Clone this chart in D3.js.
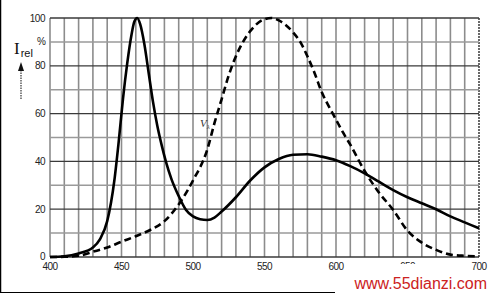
<!DOCTYPE html>
<html>
<head>
<meta charset="utf-8">
<script src="https://cdn.jsdelivr.net/npm/d3@7"></script>
<style>
  html, body { margin: 0; padding: 0; background: #fff; }
  svg { display: block; font-family: "Liberation Sans", Arial, sans-serif; }
</style>
</head>
<body>
<div id="chart"></div>
<script>
// LED emission spectrum (solid) and eye sensitivity V(lambda) (dashed), % relative
const ledWave = [400, 410, 420, 430, 435, 440, 445, 448, 451, 454, 457, 459, 461, 463, 466, 469, 472, 475, 478, 481, 485, 490, 495, 500, 505, 510, 515, 520, 530, 540, 550, 560, 570, 580, 590, 600, 610, 620, 630, 640, 650, 660, 670, 680, 690, 700];
const ledRel  = [0, 0.3, 1.5, 4, 7.5, 15, 32, 48, 66, 81, 93, 98.5, 100, 97.5, 89, 77, 65, 55, 47, 40, 32.5, 25.5, 19.8, 17, 15.8, 15.5, 16.5, 19, 25, 32, 37.5, 41, 42.8, 43, 42, 40.5, 38, 35, 31.5, 28, 25, 22.5, 20, 17, 14.5, 12];

const eyeWave = [400, 410, 420, 430, 440, 450, 460, 470, 480, 490, 500, 510, 515, 520, 525, 530, 535, 540, 550, 555, 560, 565, 570, 575, 580, 585, 590, 595, 600, 605, 610, 620, 630, 640, 650, 660, 670, 680, 690, 700];
const eyeRel  = [0, 0.1, 0.5, 2.2, 4, 6.4, 8.7, 11.3, 15, 22, 32, 45, 56, 66, 76, 84, 90, 94.5, 99.5, 100, 99, 97, 94, 90, 84, 77, 69, 63, 57.5, 52, 47, 36, 27, 19.7, 11, 6, 3, 1, 0.5, 0.3];

const xTicks = [400, 450, 500, 550, 600, 650, 700];
const yTicks = [0, 20, 40, 60, 80, 100];

const W = 494, H = 299;
const svg = d3.select('#chart').append('svg').attr('width', W).attr('height', H);

const x = d3.scaleLinear().domain([400, 700]).range([50, 479]);
const y = d3.scaleLinear().domain([0, 100]).range([257, 18]);

// frame (left and bottom edges only)
svg.append('line').attr('x1', 0.5).attr('x2', 0.5).attr('y1', 0).attr('y2', 293)
  .attr('stroke', '#000').attr('stroke-width', 1.5);
svg.append('line').attr('x1', 0).attr('x2', 335).attr('y1', 292.5).attr('y2', 292.5)
  .attr('stroke', '#000').attr('stroke-width', 1.2);

// grid
const grid = svg.append('g');
grid.selectAll('line.v')
  .data(d3.range(400, 701, 10))
  .join('line')
  .attr('x1', d => x(d)).attr('x2', d => x(d))
  .attr('y1', y(100)).attr('y2', y(0))
  .attr('stroke', d => d === 700 ? '#444' : '#8c8c8c')
  .attr('stroke-width', 1.6)
  .attr('stroke-dasharray', d => d === 700 ? '2,1' : null);

grid.selectAll('line.h')
  .data(d3.range(0, 101, 10))
  .join('line')
  .attr('x1', x(400)).attr('x2', x(700))
  .attr('y1', d => y(d)).attr('y2', d => y(d))
  .attr('stroke', d => d % 20 === 0 ? '#3a3a3a' : '#9a9a9a')
  .attr('stroke-width', d => d % 20 === 0 ? 1.3 : 1.5);

// axes tick labels
svg.append('g').selectAll('text')
  .data(yTicks)
  .join('text')
  .attr('x', 45).attr('y', d => y(d) + (d === 0 ? 2.5 : 3.5))
  .attr('text-anchor', 'end').attr('font-size', 10).attr('fill', '#222')
  .attr('letter-spacing', -0.5)
  .text(d => d);

svg.append('text').attr('x', 46).attr('y', y(90) + 3.5)
  .attr('text-anchor', 'end').attr('font-size', 10).attr('fill', '#222').text('%');

svg.append('g').selectAll('text')
  .data(xTicks)
  .join('text')
  .attr('x', d => x(d)).attr('y', 270)
  .attr('text-anchor', 'middle').attr('font-size', 10).attr('fill', '#222')
  .attr('letter-spacing', -0.5)
  .text(d => d);

// y axis title: I_rel with arrow
const yt = svg.append('text').attr('x', 14).attr('y', 54).attr('fill', '#111');
yt.append('tspan').attr('font-family', '"Liberation Serif", serif').attr('font-size', 17).text('I');
yt.append('tspan').attr('font-size', 11).attr('dy', 3).attr('dx', 1).text('rel');

svg.append('line').attr('x1', 21).attr('x2', 21).attr('y1', 70).attr('y2', 99)
  .attr('stroke', '#333').attr('stroke-width', 1.2).attr('stroke-dasharray', '1.5,1');
svg.append('path').attr('d', 'M21,62 L18,71 L24,71 Z').attr('fill', '#111');

// curves
const line = d3.line().x(d => x(d[0])).y(d => y(d[1])).curve(d3.curveMonotoneX);

svg.append('path')
  .datum(d3.zip(eyeWave, eyeRel))
  .attr('d', line)
  .attr('fill', 'none').attr('stroke', '#000').attr('stroke-width', 2.6)
  .attr('stroke-dasharray', '7,4');

svg.append('path')
  .datum(d3.zip(ledWave, ledRel))
  .attr('d', line)
  .attr('fill', 'none').attr('stroke', '#000').attr('stroke-width', 2.6);

// V lambda label
const vl = svg.append('text').attr('x', 200).attr('y', 127).attr('fill', '#333')
  .attr('font-family', '"Liberation Serif", serif').attr('font-style', 'italic');
vl.append('tspan').attr('font-size', 11).text('V');
vl.append('tspan').attr('font-size', 7).attr('dy', 2).text('λ');

// watermark (its white box hides the lower part of the 650 label, as in the source)
svg.append('rect').attr('x', 395).attr('y', 264).attr('width', 30).attr('height', 10).attr('fill', '#fff');
svg.append('rect').attr('x', 355).attr('y', 273).attr('width', 139).attr('height', 26).attr('fill', '#fff');
svg.append('text').attr('x', 487).attr('y', 289)
  .attr('text-anchor', 'end').attr('font-size', 16).attr('fill', '#cc2222')
  .text('www.55dianzi.com');
</script>
</body>
</html>
